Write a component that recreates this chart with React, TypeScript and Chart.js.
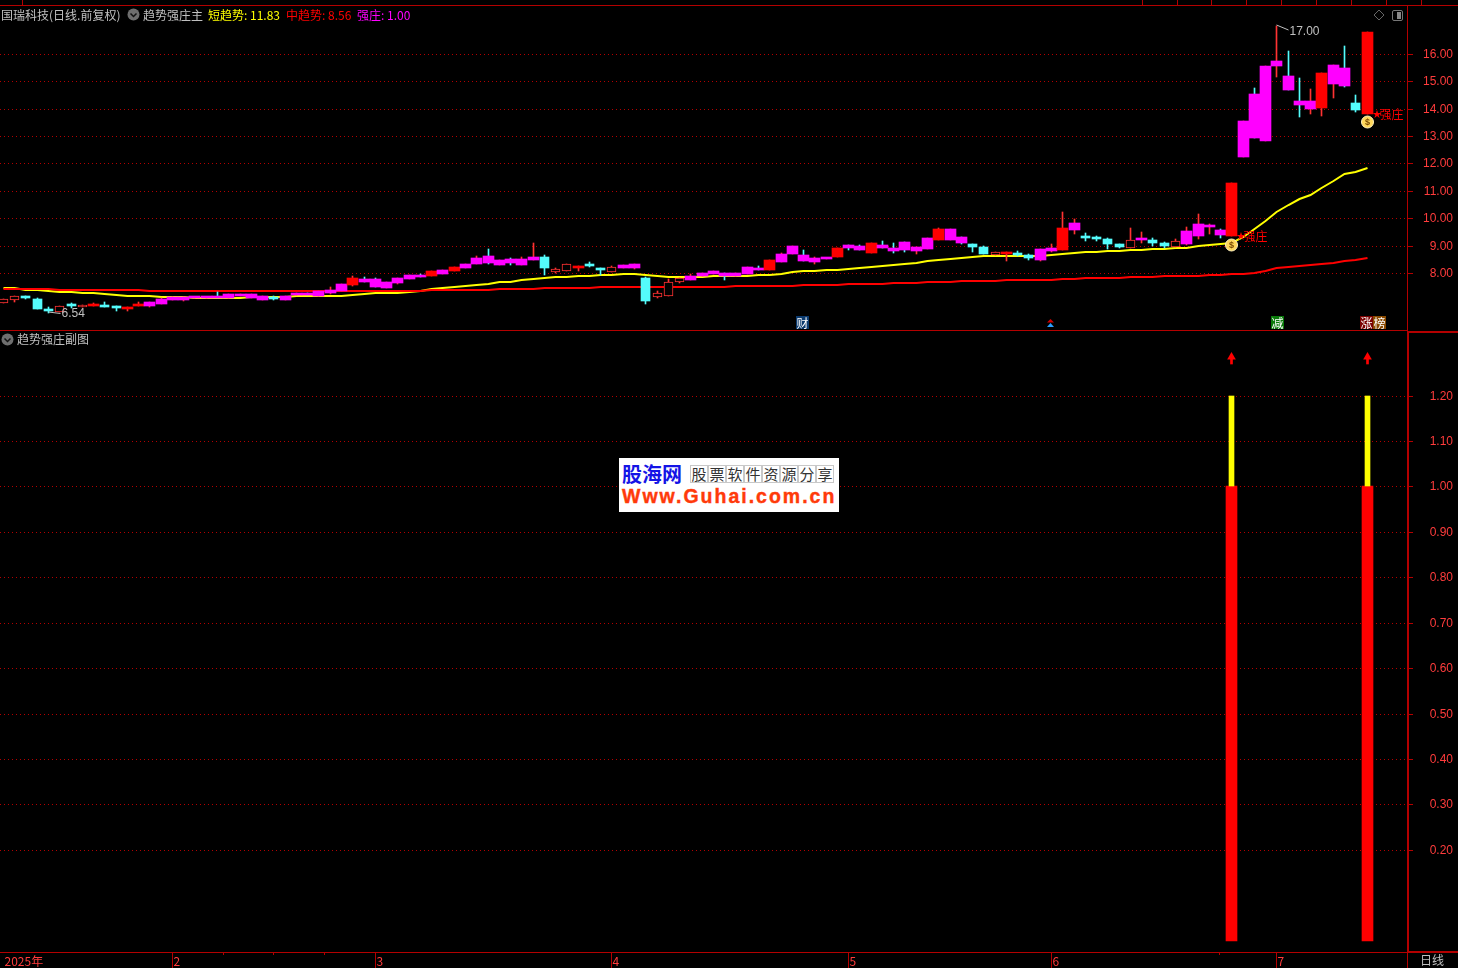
import React, { useEffect, useRef } from "react";
import Chart from "chart.js/auto";

const kinds = [
  "h","h","c","c","c","h","c","h","r","c","c","r","r","m","m","m","m","m","m","n",
  "m","m","m","m","c","m","m","n","m","m","m","r","n","n","m","m","m","n","r","m",
  "r","m","m","n","m","n","m","m","c","h","h","r","c","c","h","m","m","c","h","h",
  "h","m","m","m","n","m","m","n","r","m","m","n","m","m","r","n","n","r","n","n",
  "n","m","m","r","m","n","c","c","h","r","c","c","m","m","r","m","c","c","c","c",
  "h","m","c","c","h","m","m","m","n","r","m","n","m","m","n","n","m","r","m","n",
  "c","r",
];

const bodyTop = [
  7.05,7.16,7.15,7.05,6.67,6.83,6.85,6.86,6.84,6.86,6.78,6.77,6.88,6.95,7.05,7.13,7.13,7.15,7.15,7.15,
  7.24,7.24,7.24,7.17,7.13,7.17,7.28,7.24,7.35,7.39,7.61,7.82,7.79,7.79,7.68,7.82,7.93,7.90,8.08,8.12,
  8.23,8.34,8.55,8.63,8.48,8.52,8.52,8.59,8.59,8.15,8.34,8.24,8.30,8.16,8.23,8.30,8.34,7.82,7.28,7.68,
  7.82,7.90,8.01,8.08,8.01,8.01,8.23,8.15,8.48,8.70,8.99,8.66,8.55,8.55,8.92,9.03,8.99,9.10,9.03,8.92,
  9.14,8.96,9.29,9.61,9.61,9.32,9.07,8.96,8.77,8.77,8.67,8.66,8.88,8.92,9.65,9.83,9.36,9.32,9.25,9.07,
  9.21,9.29,9.21,9.10,9.17,9.54,9.80,9.76,9.58,11.29,13.55,14.54,15.56,15.74,15.20,14.29,14.29,15.31,15.60,15.49,
  14.21,16.77,
];
const bodyBottom = [
  6.92,7.03,7.11,6.69,6.64,6.60,6.81,6.78,6.81,6.78,6.75,6.69,6.82,6.80,6.89,7.02,7.02,7.11,7.11,7.11,
  7.10,7.17,7.10,7.02,7.07,7.02,7.21,7.22,7.17,7.28,7.35,7.57,7.68,7.50,7.46,7.64,7.79,7.86,7.90,7.97,
  8.08,8.19,8.34,8.37,8.30,8.37,8.30,8.48,8.19,8.04,8.08,8.21,8.26,8.13,8.04,8.19,8.19,6.99,7.13,7.17,
  7.68,7.75,7.90,7.97,7.90,7.90,7.97,8.12,8.12,8.41,8.70,8.45,8.41,8.52,8.59,8.92,8.85,8.74,8.92,8.81,
  8.85,8.81,8.88,9.21,9.21,9.10,8.96,8.70,8.66,8.70,8.65,8.55,8.48,8.81,8.85,9.58,9.29,9.25,9.07,8.96,
  8.92,9.21,9.10,8.99,8.96,9.07,9.36,9.69,9.39,9.36,12.24,12.93,12.83,15.56,14.69,14.14,14.00,14.03,14.90,14.83,
  13.96,13.81,
];
const wickHigh = [
  7.05,7.16,7.19,7.12,6.78,6.83,6.92,6.86,6.91,6.95,6.83,6.77,6.95,6.95,7.09,7.13,7.13,7.15,7.15,7.31,
  7.26,7.26,7.24,7.17,7.19,7.17,7.28,7.28,7.35,7.50,7.61,7.90,7.86,7.82,7.68,7.82,7.93,7.97,8.08,8.12,
  8.23,8.34,8.63,8.88,8.48,8.55,8.59,9.10,8.66,8.19,8.34,8.26,8.41,8.19,8.26,8.30,8.34,7.86,7.35,7.79,
  7.82,7.97,8.01,8.08,8.01,8.01,8.23,8.26,8.48,8.74,8.99,8.85,8.59,8.55,8.92,9.03,9.03,9.10,9.17,9.10,
  9.14,8.96,9.29,9.65,9.61,9.32,9.07,8.99,8.77,8.77,8.81,8.70,8.88,9.07,10.23,9.98,9.47,9.36,9.29,9.07,
  9.65,9.50,9.29,9.14,9.25,9.69,10.16,9.80,9.61,11.29,13.55,14.76,15.56,17.00,16.11,15.12,14.72,15.31,15.60,16.26,
  14.50,16.77,
];
const wickLow = [
  6.92,6.96,7.06,6.69,6.54,6.60,6.73,6.77,6.81,6.78,6.62,6.62,6.82,6.77,6.89,7.02,6.98,7.11,7.11,7.11,
  7.10,7.17,7.10,7.02,7.02,7.02,7.21,7.22,7.17,7.24,7.35,7.53,7.68,7.50,7.46,7.61,7.79,7.86,7.90,7.97,
  8.08,8.19,8.34,8.34,8.30,8.30,8.30,8.48,7.93,8.01,8.08,8.08,8.23,7.93,8.04,8.19,8.15,6.88,7.10,7.17,
  7.64,7.75,7.90,7.97,7.75,7.90,7.97,8.12,8.12,8.41,8.70,8.45,8.34,8.52,8.59,8.85,8.85,8.74,8.92,8.74,
  8.77,8.70,8.88,9.21,9.21,9.07,8.77,8.70,8.66,8.45,8.63,8.48,8.45,8.77,8.85,9.43,9.18,9.18,8.88,8.92,
  8.92,9.10,8.99,8.92,8.96,9.03,9.25,9.43,9.29,9.36,12.24,12.93,12.83,15.16,14.69,13.70,13.81,13.74,14.39,14.80,
  13.88,13.81,
];
const shortTrend = [
  7.46,7.46,7.41,7.38,7.35,7.31,7.31,7.28,7.28,7.26,7.20,7.17,7.17,7.17,7.15,7.13,7.13,7.12,7.11,7.11,
  7.11,7.11,7.13,7.13,7.13,7.15,7.17,7.17,7.19,7.19,7.19,7.21,7.24,7.27,7.29,7.30,7.31,7.37,7.42,7.47,
  7.50,7.53,7.58,7.63,7.67,7.70,7.75,7.80,7.84,7.86,7.88,7.91,7.92,7.94,7.95,7.97,7.96,7.93,7.90,7.87,
  7.86,7.86,7.88,7.91,7.90,7.90,7.92,7.93,7.95,7.98,8.04,8.07,8.08,8.11,8.13,8.17,8.20,8.24,8.28,8.31,
  8.35,8.39,8.45,8.50,8.53,8.57,8.59,8.62,8.63,8.63,8.63,8.62,8.63,8.65,8.69,8.73,8.77,8.79,8.81,8.83,
  8.85,8.86,8.88,8.89,8.91,8.93,8.99,9.03,9.06,9.12,9.34,9.61,9.92,10.23,10.49,10.69,10.85,11.11,11.37,11.60,
  11.69,11.83,
];
const midTrend = [
  7.43,7.43,7.43,7.43,7.43,7.39,7.39,7.39,7.39,7.39,7.39,7.39,7.39,7.36,7.36,7.36,7.36,7.36,7.36,7.36,
  7.36,7.36,7.36,7.36,7.36,7.36,7.36,7.36,7.36,7.36,7.36,7.35,7.35,7.35,7.35,7.35,7.35,7.35,7.39,7.39,
  7.39,7.39,7.39,7.39,7.42,7.42,7.42,7.42,7.46,7.46,7.46,7.46,7.46,7.50,7.50,7.50,7.50,7.50,7.50,7.50,
  7.50,7.50,7.50,7.50,7.50,7.53,7.53,7.53,7.53,7.53,7.53,7.57,7.57,7.57,7.57,7.61,7.61,7.61,7.61,7.64,
  7.64,7.64,7.68,7.68,7.68,7.72,7.72,7.72,7.72,7.75,7.75,7.75,7.75,7.75,7.79,7.79,7.83,7.83,7.83,7.83,
  7.86,7.86,7.86,7.90,7.90,7.90,7.90,7.93,7.93,7.97,7.97,8.01,8.10,8.20,8.23,8.26,8.30,8.33,8.39,8.45,
  8.50,8.56,
];

const priceTicks = [8, 9, 10, 11, 12, 13, 14, 15, 16];
const signalTicks = [0.2, 0.3, 0.4, 0.5, 0.6, 0.7, 0.8, 0.9, 1.0, 1.1, 1.2];
const monthIndex = [0, 15, 33, 54, 75, 93, 113];
const monthLabels = ["2025年", "2", "3", "4", "5", "6", "7"];
const weekTicks = [19.5, 24, 28.5, 107.9];
const strongIndex = [109, 121];
const strongPrice = [9.36, 13.81];
const bagPrice = [9.03, 13.52];
const signalBase = [1, 1];
const signalCap = [1.2, 1.2];
const arrowValue = [1.285, 1.285];
const arrowFoot = [1.269, 1.269];
const lowIndex = 4, lowPrice = 6.54, highIndex = 113, highPrice = 17.0;

const AXIS = "#b40000", TICK = "#ff3c3c", GREY = "#c0c0c0", CYAN = "#54fcfc", HOLLOW = "#ff3232";
const FONT = "'Noto Sans CJK SC', sans-serif";
const X_MIN = -0.30169, X_MAX = 124.632;

const pts = (ys: number[]) => ys.map((y, i) => ({ x: i, y }));
const snap = (offset: number) => (scale: any) => {
  if (scale.__raw) return;
  const raw = scale.getPixelForValue.bind(scale);
  scale.__raw = raw;
  scale.getPixelForValue = (v: number, i?: number) => Math.floor(raw(v, i)) + offset;
};

const wideIdx = kinds.map((k, i) => (k === "r" || k === "m" || k === "n" ? i : -1)).filter((i) => i >= 0);
const narrowIdx = kinds.map((k, i) => (k === "c" || k === "h" ? i : -1)).filter((i) => i >= 0);
const bodyColor = (k: string) => (k === "r" ? "#ff0000" : k === "c" ? CYAN : k === "h" ? "#000000" : "#ff00ff");
const wickColor = (k: string) => (k === "c" || k === "n" ? CYAN : HOLLOW);

const priceMarks = {
  id: "priceMarks",
  afterDatasetsDraw(chart: any) {
    const { ctx, scales } = chart;
    const x = scales.x, y = scales.y;
    ctx.save();
    ctx.textBaseline = "middle";
    ctx.textAlign = "left";
    strongIndex.forEach((idx, n) => {
      const px = x.getPixelForValue(idx);
      const py = y.getPixelForValue(strongPrice[n]);
      ctx.fillStyle = "#ff0000";
      ctx.font = `9px ${FONT}`;
      ctx.fillText("★", px + 5, py);
      ctx.font = `12px ${FONT}`;
      ctx.fillText("强庄", px + 12, py);
      ctx.fillStyle = "#7a4a00";
      ctx.font = `bold 9px 'Liberation Sans'`;
      ctx.textAlign = "center";
      ctx.fillText("$", px, y.getPixelForValue(bagPrice[n]) + 1);
      ctx.textAlign = "left";
    });
    ctx.strokeStyle = GREY;
    ctx.fillStyle = GREY;
    ctx.lineWidth = 1;
    ctx.font = "12px 'Liberation Sans'";
    const lx = x.getPixelForValue(lowIndex), ly = y.getPixelForValue(lowPrice);
    ctx.beginPath();
    ctx.moveTo(lx, ly - 1); ctx.lineTo(lx + 12, ly + 0.5); ctx.stroke();
    ctx.fillText(lowPrice.toFixed(2), lx + 13, ly + 1);
    const hx = x.getPixelForValue(highIndex), hy = y.getPixelForValue(highPrice);
    ctx.beginPath();
    ctx.moveTo(hx, hy - 1); ctx.lineTo(hx + 12, hy + 4); ctx.stroke();
    ctx.fillText(highPrice.toFixed(2), hx + 13, hy + 6);
    ctx.restore();
  },
};

const weekMarks = {
  id: "weekMarks",
  afterDraw(chart: any) {
    const { ctx, scales } = chart;
    ctx.save();
    ctx.strokeStyle = AXIS;
    weekTicks.forEach((v) => {
      const px = scales.x.getPixelForValue(v);
      ctx.beginPath();
      ctx.moveTo(px, scales.x.top);
      ctx.lineTo(px, scales.x.top + 3);
      ctx.stroke();
    });
    ctx.restore();
  },
};

const yAxis = (min: number, max: number, values: number[]) => ({
  position: "right",
  min,
  max,
  afterFit: (s: any) => { s.width = 45; s.paddingTop = 0; s.paddingBottom = 0; },
  afterBuildTicks: (s: any) => { s.ticks = values.map((value) => ({ value })); },
  afterUpdate: snap(0),
  border: { display: false, dash: [1, 3] },
  grid: { color: AXIS, tickColor: AXIS, tickBorderDash: [], tickLength: 5, lineWidth: 1 },
  ticks: {
    color: TICK,
    autoSkip: false,
    padding: 0,
    labelOffset: 1,
    crossAlign: "far",
    font: { family: "'Liberation Sans'", size: 12 },
    callback: (v: number) => Number(v).toFixed(2),
  },
});

function line(style: any): React.CSSProperties {
  return { position: "absolute", background: AXIS, ...style };
}

function Label(props: { x: number; y: number; color: string; text: string }) {
  return (
    <span style={{ position: "absolute", left: props.x, top: props.y, color: props.color, fontSize: 12, lineHeight: "14px", whiteSpace: "nowrap", fontFamily: FONT }}>
      {props.text}
    </span>
  );
}

function Chevron(props: { x: number; y: number }) {
  return (
    <svg style={{ position: "absolute", left: props.x, top: props.y }} width="13" height="13">
      <circle cx="6.5" cy="6.5" r="6" fill="#6e6e6e" />
      <polyline points="3.5,5.5 6.5,8.5 9.5,5.5" fill="none" stroke="#111" strokeWidth="1.5" />
    </svg>
  );
}

function Badge(props: { x: number; bg: string; text: string }) {
  return (
    <span style={{ position: "absolute", left: props.x, top: 316, width: 13, height: 13, background: props.bg, color: "#fff", fontSize: 12, lineHeight: "13px", textAlign: "center", fontFamily: FONT }}>
      {props.text}
    </span>
  );
}

const separators = [22, 1142, 1177, 1211, 1246, 1281, 1316, 1351, 1386, 1421];
const slogan = ["股", "票", "软", "件", "资", "源", "分", "享"];

export default function App() {
  const topRef = useRef<HTMLCanvasElement>(null);
  const botRef = useRef<HTMLCanvasElement>(null);

  useEffect(() => {
    document.body.style.margin = "0";
    document.body.style.background = "#000";
    const base: any = {
      responsive: false,
      animation: false,
      events: [],
      plugins: { legend: { display: false }, tooltip: { enabled: false } },
    };
    const top = new Chart(topRef.current as any, {
      type: "bar",
      data: {
        datasets: [
          { type: "line", data: pts(shortTrend), borderColor: "#ffff00", borderWidth: 2, pointRadius: 0, tension: 0, order: 6 },
          { type: "line", data: pts(midTrend), borderColor: "#ff0000", borderWidth: 2, pointRadius: 0, tension: 0, order: 5 },
          {
            data: kinds.map((_, i) => ({ x: i, y: [wickLow[i], wickHigh[i]] })),
            backgroundColor: kinds.map(wickColor),
            barThickness: 1, grouped: false, order: 4,
          },
          {
            data: narrowIdx.map((i) => ({ x: i, y: [bodyBottom[i], bodyTop[i]] })),
            backgroundColor: narrowIdx.map((i) => bodyColor(kinds[i])),
            borderColor: narrowIdx.map((i) => (kinds[i] === "h" ? HOLLOW : CYAN)),
            borderWidth: narrowIdx.map((i) => (kinds[i] === "h" ? 1 : 0)),
            borderSkipped: false,
            barThickness: 9, grouped: false, minBarLength: 2, order: 3,
          },
          {
            data: wideIdx.map((i) => ({ x: i, y: [bodyBottom[i], bodyTop[i]] })),
            backgroundColor: wideIdx.map((i) => bodyColor(kinds[i])),
            barThickness: 11, grouped: false, minBarLength: 2, order: 2,
          },
          {
            type: "line",
            data: strongIndex.map((x, n) => ({ x, y: bagPrice[n] })),
            showLine: false,
            pointRadius: 6,
            pointBackgroundColor: "#ffd75a",
            pointBorderColor: "#fff2c0",
            pointBorderWidth: 1,
            order: 1,
          },
        ],
      } as any,
      options: {
        ...base,
        layout: { padding: { top: 6, left: 0, right: 5, bottom: 0 }, autoPadding: false },
        scales: {
          x: { type: "linear", display: false, offset: false, min: X_MIN, max: X_MAX, afterUpdate: snap(0.5), grid: { offset: false } },
          y: yAxis(5.92, 17.75, priceTicks),
        },
      } as any,
      plugins: [priceMarks],
    });

    const bottom = new Chart(botRef.current as any, {
      type: "bar",
      data: {
        datasets: [
          {
            data: strongIndex.map((x, n) => ({ x, y: [0, signalBase[n]] })),
            backgroundColor: "#ff0000",
            barThickness: 11, grouped: false, order: 3,
          },
          {
            data: strongIndex.map((x, n) => ({ x, y: [signalBase[n], signalCap[n]] })),
            backgroundColor: "#ffff00",
            barThickness: 5, grouped: false, order: 2,
          },
          {
            data: strongIndex.map((x, n) => ({ x, y: [arrowFoot[n], arrowValue[n]] })),
            backgroundColor: "#ff0000",
            barThickness: 2, grouped: false, order: 2,
          },
          {
            type: "line",
            data: strongIndex.map((x, n) => ({ x, y: arrowValue[n] })),
            showLine: false,
            pointStyle: "triangle",
            pointRadius: 5,
            pointBackgroundColor: "#ff0000",
            pointBorderWidth: 0,
            order: 1,
          },
        ],
      } as any,
      options: {
        ...base,
        layout: { padding: { top: 0, left: 0, right: 5, bottom: 0 }, autoPadding: false },
        scales: {
          x: {
            type: "linear",
            position: "bottom",
            offset: false,
            min: X_MIN,
            max: X_MAX,
            afterFit: (s: any) => { s.height = 16; s.paddingLeft = 0; s.paddingRight = 0; },
            afterBuildTicks: (s: any) => { s.ticks = monthIndex.map((value) => ({ value })); },
            afterUpdate: snap(0.5),
            border: { display: false },
            grid: {
              offset: false,
              drawOnChartArea: false,
              tickLength: 16,
              tickColor: (c: any) => (c.index === 0 ? "rgba(0,0,0,0)" : AXIS),
            },
            ticks: {
              color: TICK,
              autoSkip: false,
              maxRotation: 0,
              align: "start",
              padding: -14,
              labelOffset: 1,
              font: { family: FONT, size: 12 },
              callback: (v: number) => monthLabels[monthIndex.indexOf(v)],
            },
          },
          y: yAxis(-0.0242, 1.3436, signalTicks),
        },
      } as any,
      plugins: [weekMarks],
    });
    return () => {
      top.destroy();
      bottom.destroy();
    };
  }, []);

  return (
    <div style={{ position: "fixed", left: 0, top: 0, width: 1458, height: 968, background: "#000", overflow: "hidden" }}>
      <canvas ref={topRef} width={1458} height={331} style={{ position: "absolute", left: 0, top: 0 }} />
      <canvas ref={botRef} width={1458} height={637} style={{ position: "absolute", left: 0, top: 331 }} />

      <div style={line({ left: 0, top: 5, width: 1458, height: 1 })} />
      {separators.map((x) => <div key={x} style={line({ left: x, top: 0, width: 1, height: 5 })} />)}
      <div style={line({ left: 1407, top: 5, width: 1, height: 325 })} />
      <div style={line({ left: 0, top: 330, width: 1408, height: 1 })} />
      <div style={line({ left: 1407, top: 331, width: 51, height: 2 })} />
      <div style={line({ left: 1407, top: 331, width: 2, height: 621 })} />
      <div style={line({ left: 0, top: 952, width: 1408, height: 1 })} />
      <div style={line({ left: 1407, top: 951, width: 51, height: 2 })} />
      <div style={line({ left: 1407, top: 952, width: 1, height: 16 })} />

      <Label x={1} y={8} color={GREY} text="国瑞科技(日线.前复权)" />
      <Chevron x={127} y={8} />
      <Label x={143} y={8} color={GREY} text="趋势强庄主" />
      <Label x={208} y={8} color="#ffff00" text="短趋势: 11.83" />
      <Label x={286} y={8} color="#ff0000" text="中趋势: 8.56" />
      <Label x={357} y={8} color="#ff00ff" text="强庄: 1.00" />
      <Chevron x={1} y={333} />
      <Label x={17} y={332} color={GREY} text="趋势强庄副图" />
      <Label x={1420} y={953} color={GREY} text="日线" />

      <svg style={{ position: "absolute", left: 1372, top: 9 }} width="34" height="13">
        <polygon points="7,1 12,6 7,11 2,6" fill="none" stroke="#666" />
        <rect x="20.5" y="1.5" width="10" height="10" rx="1.5" fill="none" stroke="#777" />
        <rect x="25" y="3" width="4" height="7" fill="#888" />
      </svg>

      <Badge x={796} bg="#0b3a6e" text="财" />
      <svg style={{ position: "absolute", left: 1046, top: 319 }} width="9" height="9">
        <polygon points="4.5,0 8,3.5 1,3.5" fill="#d40000" />
        <polygon points="4.5,4 8,8 1,8" fill="#2aa0ff" />
      </svg>
      <Badge x={1271} bg="#0a7a0a" text="减" />
      <Badge x={1360} bg="#7a0000" text="涨" />
      <Badge x={1373} bg="#8a4a00" text="榜" />

      <div style={{ position: "absolute", left: 619, top: 458, width: 220, height: 54, background: "#fff" }}>
        <span style={{ position: "absolute", left: 3, top: 4, color: "#1414e6", fontFamily: FONT, fontWeight: 700, fontSize: 20, lineHeight: "24px", whiteSpace: "nowrap" }}>股海网</span>
        {slogan.map((c, i) => (
          <span key={c} style={{ position: "absolute", left: 71 + i * 18, top: 7, width: 18, height: 18, boxSizing: "border-box", border: "1px solid #c8c8c8", color: "#333", fontFamily: FONT, fontSize: 15, lineHeight: "16px", textAlign: "center" }}>{c}</span>
        ))}
        <span style={{ position: "absolute", left: 3, top: 27, color: "#ff3a0a", fontFamily: "'Liberation Sans'", fontWeight: 700, fontSize: 19.5, letterSpacing: 2, WebkitTextStroke: "0.4px #ff3a0a", lineHeight: "22px", whiteSpace: "nowrap" }}>Www.Guhai.com.cn</span>
      </div>
    </div>
  );
}
